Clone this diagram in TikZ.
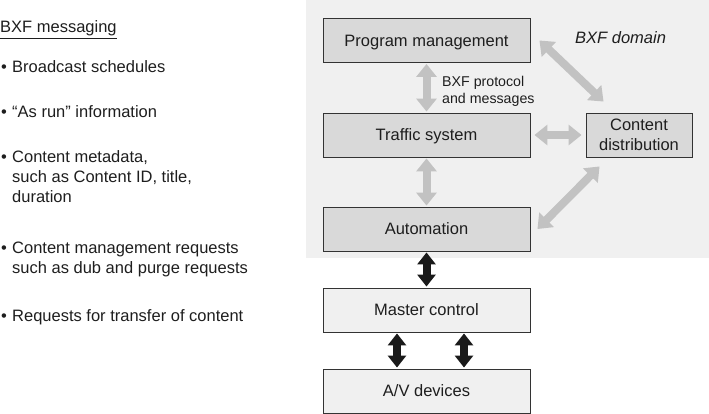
\documentclass[tikz,border=0pt]{standalone}
\usepackage{fontspec}
\setmainfont{Liberation Sans}
\usetikzlibrary{arrows.meta,calc}
\definecolor{txt}{HTML}{1E1E1E}
\definecolor{domainbg}{HTML}{F0F0F0}
\definecolor{boxfill}{HTML}{D9D9D9}
\definecolor{lightfill}{HTML}{F0F0F0}
\definecolor{garrow}{HTML}{C2C2C2}
\definecolor{barrow}{HTML}{1A1A1A}
\begin{document}
\begin{tikzpicture}[x=1pt,y=-1pt,
  box/.style={draw=black!80, line width=0.9pt, fill=#1, minimum width=207pt,
    minimum height=44pt, inner sep=0pt, text=txt,
    font=\fontsize{16.5}{20}\selectfont},
  capbox/.style={box=#1, text height=11.8pt, text depth=0pt},
  lt/.style={anchor=base west, inner sep=0pt, text=txt,
    font=\fontsize{16.5}{20}\selectfont},
  tip/.style={Triangle[width=20pt,length=12pt]},
  garr/.style={draw=garrow, line width=8pt, {Triangle[width=20pt,length=13pt]}-{Triangle[width=20pt,length=13pt]},
    shorten >=1pt, shorten <=1pt},
  barr/.style={draw=barrow, line width=8pt, {Triangle[width=18pt,length=12pt]}-{Triangle[width=18pt,length=12pt]},
    shorten >=1pt, shorten <=1pt}]
\useasboundingbox (0,0) rectangle (709,414);
% domain background
\fill[domainbg] (306,0) rectangle (709,258);

% left list
\node[lt] (title) at (0,33) {\underline{BXF messaging}};
\node[lt] (b1) at (1,73) {•};
\node[lt] (t1) at (12,73) {Broadcast schedules};
\node[lt] (b2) at (1,118) {•};
\node[lt] (t2) at (12,118) {“As run” information};
\node[lt] (b3) at (1,163) {•};
\node[lt] (t3a) at (12,163) {Content metadata,};
\node[lt] (t3b) at (12,183) {such as Content ID, title,};
\node[lt] (t3c) at (12,203) {duration};
\node[lt] (b4) at (1,253) {•};
\node[lt] (t4a) at (12,253) {Content management requests};
\node[lt] (t4b) at (12,273) {such as dub and purge requests};
\node[lt] (b5) at (1,321) {•};
\node[lt] (t5) at (12,321) {Requests for transfer of content};

% boxes
\node[capbox=boxfill] (pm) at (426.5,40.5) {Program management};
\node[capbox=boxfill] (ts) at (426.5,135) {Traffic system};
\node[capbox=boxfill] (au) at (426.5,229) {Automation};
\node[capbox=lightfill] (mc) at (426.5,310) {Master control};
\node[capbox=lightfill] (av) at (426.5,391) {A/V devices};
\node[box=boxfill, minimum width=106pt, align=center] (cd) at (639,135) {Content\\distribution};

% labels
\node[lt, font=\fontsize{16.5}{20}\selectfont\itshape] (dom) at (575,44) {BXF domain};
\node[lt, font=\fontsize{14.2}{17}\selectfont] (p1) at (442,87) {BXF protocol};
\node[lt, font=\fontsize{14.2}{17}\selectfont] (p2) at (442,104) {and messages};

% gray arrows
\draw[garr] (pm.south) -- (ts.north);
\draw[garr] (ts.south) -- (au.north);
\draw[garr] ([xshift=3pt]ts.east) -- ([xshift=-3pt]cd.west);
\coordinate (pmcd1) at ([xshift=9pt]pm.east);
\coordinate (pmcd2) at ($(cd.north west)+(18,-11)$);
\draw[garr, shorten <=0pt, shorten >=0pt] (pmcd1) -- (pmcd2);
\coordinate (aucd1) at ([xshift=7pt]au.east);
\coordinate (aucd2) at ($(cd.south west)+(14,9)$);
\draw[garr, shorten <=0pt, shorten >=0pt] (aucd1) -- (aucd2);

% black arrows
\draw[barr] (au.south) -- (mc.north);
\draw[barr] ([xshift=-29.5pt]mc.south) -- ([xshift=-29.5pt]av.north);
\draw[barr] ([xshift=37.5pt]mc.south) -- ([xshift=37.5pt]av.north);
\end{tikzpicture}
\end{document}
